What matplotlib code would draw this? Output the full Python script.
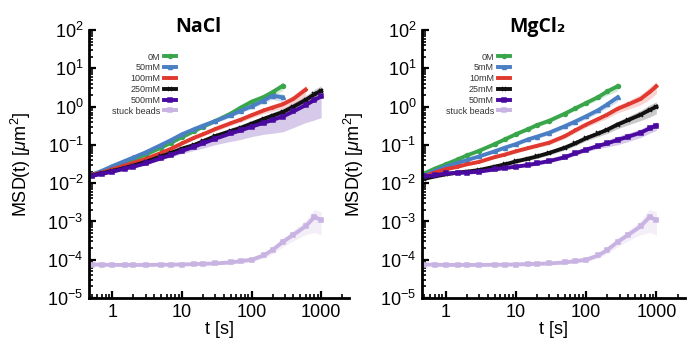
import matplotlib
matplotlib.use('Agg')
import matplotlib.pyplot as plt
import numpy as np

plt.rcParams['font.family'] = ['Liberation Sans', 'DejaVu Sans']
plt.rcParams['mathtext.fontset'] = 'custom'
plt.rcParams['mathtext.rm'] = 'Liberation Sans'
plt.rcParams['mathtext.it'] = 'Liberation Sans:italic'

# lag times [s]
t = [0.5, 0.7, 1, 1.5, 2, 3, 5, 7, 10, 15, 20, 30, 50, 70, 100, 150, 200, 280, 400, 600, 800, 1000]

# NaCl panel, MSD [um^2]
nacl_labels = ['0M', '50mM', '100mM', '250mM', '500mM', 'stuck beads']
nacl_0 = [0.0165, 0.020, 0.025, 0.033, 0.041, 0.056, 0.085, 0.115, 0.16, 0.23, 0.30, 0.42,
          0.66, 0.95, 1.35, 1.8, 2.4, 3.5]
nacl_50 = [0.0165, 0.021, 0.028, 0.038, 0.047, 0.064, 0.10, 0.135, 0.19, 0.26, 0.32, 0.42,
           0.60, 0.78, 1.02, 1.45, 1.95, 1.75]
nacl_100 = [0.0165, 0.019, 0.023, 0.029, 0.034, 0.043, 0.062, 0.08, 0.11, 0.155, 0.19, 0.26,
            0.37, 0.46, 0.6, 0.8, 0.95, 1.15, 1.6, 2.8]
nacl_250 = [0.016, 0.018, 0.021, 0.025, 0.029, 0.036, 0.05, 0.062, 0.08, 0.10, 0.125, 0.17,
            0.23, 0.28, 0.36, 0.48, 0.58, 0.72, 1.0, 1.5, 2.1, 2.6]
nacl_500 = [0.0155, 0.0175, 0.02, 0.024, 0.027, 0.033, 0.045, 0.055, 0.07, 0.09, 0.11, 0.145,
            0.20, 0.24, 0.30, 0.38, 0.45, 0.55, 0.75, 1.1, 1.5, 1.85]
stuck = [7.5e-5, 7.4e-5, 7.3e-5, 7.3e-5, 7.3e-5, 7.3e-5, 7.4e-5, 7.4e-5, 7.5e-5, 7.7e-5, 7.8e-5,
         8.0e-5, 8.5e-5, 9.2e-5, 1.0e-4, 1.3e-4, 1.8e-4, 2.9e-4, 4.5e-4, 7.5e-4, 1.3e-3, 1.1e-3]

# MgCl2 panel, MSD [um^2]
mgcl_labels = ['0M', '5mM', '10mM', '25mM', '50mM', 'stuck beads']
mgcl_0 = [0.018, 0.024, 0.031, 0.042, 0.053, 0.07, 0.105, 0.14, 0.19, 0.26, 0.33, 0.43,
          0.66, 0.9, 1.25, 1.8, 2.5, 3.4]
mgcl_5 = [0.016, 0.021, 0.027, 0.034, 0.040, 0.05, 0.068, 0.085, 0.105, 0.14, 0.165, 0.21,
          0.31, 0.41, 0.56, 0.82, 1.15, 1.75]
mgcl_10 = [0.015, 0.019, 0.023, 0.027, 0.031, 0.036, 0.048, 0.056, 0.068, 0.083, 0.095, 0.115,
           0.17, 0.24, 0.34, 0.48, 0.62, 0.88, 1.15, 1.6, 2.4, 3.4]
mgcl_25 = [0.013, 0.015, 0.017, 0.019, 0.020, 0.022, 0.027, 0.031, 0.037, 0.044, 0.05, 0.062,
           0.085, 0.11, 0.15, 0.2, 0.25, 0.34, 0.45, 0.62, 0.82, 1.0]
mgcl_50 = [0.015, 0.016, 0.018, 0.0185, 0.019, 0.020, 0.023, 0.025, 0.027, 0.030, 0.033, 0.038,
           0.048, 0.06, 0.075, 0.095, 0.11, 0.135, 0.165, 0.21, 0.27, 0.32]

# relative spread of the shaded bands (SD / mean)
err_small = [0.02, 0.02, 0.03, 0.03, 0.04, 0.05, 0.06, 0.07, 0.08, 0.09, 0.1, 0.1,
             0.1, 0.11, 0.12, 0.15, 0.2, 0.25, 0.25, 0.25, 0.25, 0.25]
err_mid = [0.02, 0.03, 0.03, 0.04, 0.05, 0.06, 0.07, 0.08, 0.09, 0.1, 0.11, 0.12,
           0.13, 0.14, 0.15, 0.17, 0.2, 0.22, 0.25, 0.3, 0.35, 0.35]
err_big = [0.03, 0.04, 0.05, 0.06, 0.07, 0.08, 0.1, 0.12, 0.15, 0.2, 0.25, 0.3,
           0.38, 0.42, 0.45, 0.5, 0.55, 0.6, 0.62, 0.65, 0.7, 0.72]
err_stuck = [0.05, 0.05, 0.05, 0.05, 0.05, 0.05, 0.05, 0.05, 0.06, 0.06, 0.06, 0.07,
             0.08, 0.1, 0.12, 0.15, 0.2, 0.25, 0.3, 0.4, 0.6, 0.6]

colors = ['#3aa64c', '#4a7fc3', '#e03a30', '#111111', '#4a0aa0', '#c9b3e2']
markers = ['o', '^', '+', 'x', 's', 's']

nacl = [nacl_0, nacl_50, nacl_100, nacl_250, nacl_500, stuck]
nacl_err = [err_small, err_small, err_mid, err_mid, err_big, err_stuck]
mgcl = [mgcl_0, mgcl_5, mgcl_10, mgcl_25, mgcl_50, stuck]
mgcl_err = [err_small, err_mid, err_mid, err_mid, err_small, err_stuck]


def panel(ax, series, errs, labels, title, tx):
    handles = []
    for i, (y, e) in enumerate(zip(series, errs)):
        y = np.array(y)
        x = np.array(t[:len(y)])
        e = np.array(e[:len(y)])
        ax.fill_between(x, y * (1 - e), y * (1 + e), color=colors[i], alpha=0.22, lw=0)
    for i, y in enumerate(series):
        x = t[:len(y)]
        h, = ax.plot(x, y, color=colors[i], lw=2.8, marker=markers[i], ms=2.8, mew=1.1,
                     label=labels[i])
        handles.append(h)
    ax.set_xscale('log')
    ax.set_yscale('log')
    ax.set_xlim(0.46, 2550)
    ax.set_ylim(1e-5, 1e2)
    ax.set_xticks([1, 10, 100, 1000])
    ax.set_xticklabels(['1', '10', '100', '1000'])
    ax.set_yticks([10.0 ** k for k in range(-5, 3)])
    ax.yaxis.set_minor_locator(matplotlib.ticker.LogLocator(subs=np.arange(2, 10), numticks=20))
    ax.xaxis.set_minor_locator(matplotlib.ticker.LogLocator(subs=np.arange(2, 10), numticks=20))
    ax.yaxis.set_minor_formatter(matplotlib.ticker.NullFormatter())
    ax.xaxis.set_minor_formatter(matplotlib.ticker.NullFormatter())
    ax.tick_params(which='major', direction='in', length=5, width=1.6, labelsize=13, pad=4)
    ax.tick_params(which='minor', direction='in', length=3, width=1.2)
    for s in ['top', 'right']:
        ax.spines[s].set_visible(False)
    for s in ['left', 'bottom']:
        ax.spines[s].set_linewidth(2)
    ax.set_xlabel('t [s]', fontsize=13, labelpad=0)
    ax.set_ylabel(r'MSD(t) [$\mu$m$^2$]', fontsize=13, labelpad=10)
    ax.text(tx, 0.975, title, transform=ax.transAxes, ha='center', va='bottom',
            fontsize=14, fontweight='bold', family=['Open Sans', 'DejaVu Sans'])
    leg = ax.legend(handles=handles, loc='upper right', bbox_to_anchor=(0.36, 0.94),
                    frameon=False, markerfirst=False, fontsize=6.5, handlelength=1.4,
                    labelspacing=0.2, handletextpad=0.4, borderpad=0.2)
    for txt in leg.get_texts():
        txt.set_color('#333333')


fig = plt.figure(figsize=(6.87, 3.39), dpi=100)
ax1 = fig.add_axes([0.1296, 0.121, 0.379, 0.79])
ax2 = fig.add_axes([0.614, 0.121, 0.383, 0.79])
panel(ax1, nacl, nacl_err, nacl_labels, 'NaCl', 0.42)
panel(ax2, mgcl, mgcl_err, mgcl_labels, 'MgCl₂', 0.44)
fig.savefig('out.png', dpi=100)
